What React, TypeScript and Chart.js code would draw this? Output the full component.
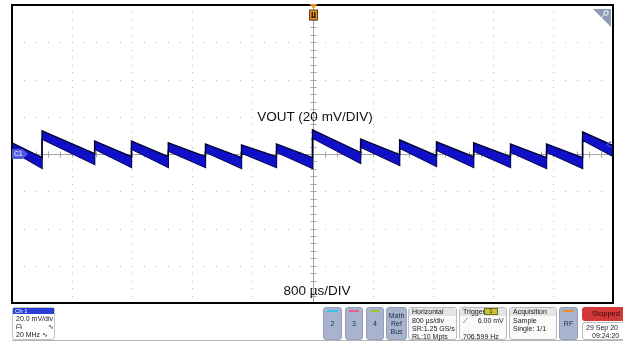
import React, { useEffect, useRef } from "react";
import { Chart, registerables } from "chart.js";

Chart.register(...registerables);

// Time axis (µs) and voltage axis (mV): 10 x 800 µs, 8 x 20 mV
const timeMin = -4000;
const timeMax = 4000;
const timeDiv = 800;
const voltMin = -80;
const voltMax = 80;
const voltDiv = 20;

// Sawtooth edges (µs) of VOUT ripple
const jumpTimes = [-3600, -2900, -2410, -1920, -1425, -945, -480, 0, 640, 1160, 1650, 2145, 2635, 3115, 3595];
// Start / end level of each ramp segment (mV), 16 segments
const rampStartMv = [3.8, 10.2, 4.8, 4.8, 3.8, 3.2, 2.7, 3.2, 10.7, 5.9, 5.4, 4.3, 3.8, 3.2, 3.2, 9.7];
const rampEndMv = [-4.8, -2.7, -4.3, -4.3, -4.3, -4.8, -4.3, -4.8, -2.1, -3.2, -3.8, -4.3, -4.3, -4.8, -4.8, 1.6];
// Noise envelope half-width (mV) at ramp start / end
const noiseStartMv = 2.2;
const noiseEndMv = 2.9;

const bounds = [timeMin, ...jumpTimes, timeMax];
const upper: { x: number; y: number }[] = [];
const lower: { x: number; y: number }[] = [];
for (let i = 0; i < rampStartMv.length; i++) {
  upper.push({ x: bounds[i], y: rampStartMv[i] + noiseStartMv });
  upper.push({ x: bounds[i + 1], y: rampEndMv[i] + noiseEndMv });
  lower.push({ x: bounds[i], y: rampStartMv[i] - noiseStartMv });
  lower.push({ x: bounds[i + 1], y: rampEndMv[i] - noiseEndMv });
}

const scopePlugin = {
  id: "scope",
  beforeDatasetsDraw(chart: any) {
    const { ctx, chartArea: a, scales } = chart;
    const x = scales.x;
    const y = scales.y;
    ctx.save();
    ctx.fillStyle = "#bcbcbc";
    const yMinor = voltDiv / 5;
    const xMinor = timeDiv / 5;
    for (let t = timeMin + timeDiv; t < timeMax; t += timeDiv) {
      if (t === 0) continue;
      const px = Math.round(x.getPixelForValue(t));
      for (let v = voltMin + yMinor; v < voltMax; v += yMinor) {
        const py = Math.round(y.getPixelForValue(v));
        ctx.fillRect(px, py, 1, 1);
      }
    }
    for (let v = voltMin + voltDiv; v < voltMax; v += voltDiv) {
      if (v === 0) continue;
      const py = Math.round(y.getPixelForValue(v));
      for (let t = timeMin + xMinor; t < timeMax; t += xMinor) {
        const px = Math.round(x.getPixelForValue(t));
        ctx.fillRect(px, py, 1, 1);
      }
    }
    // center crosshair
    const cx = Math.round(x.getPixelForValue(0)) + 0.5;
    const cy = Math.round(y.getPixelForValue(0)) + 0.5;
    ctx.strokeStyle = "#a4a4a4";
    ctx.lineWidth = 1;
    ctx.beginPath();
    ctx.moveTo(cx, a.top);
    ctx.lineTo(cx, a.bottom);
    ctx.moveTo(a.left, cy);
    ctx.lineTo(a.right, cy);
    for (let v = voltMin + yMinor; v < voltMax; v += yMinor) {
      const py = Math.round(y.getPixelForValue(v)) + 0.5;
      ctx.moveTo(cx - 3, py);
      ctx.lineTo(cx + 3, py);
    }
    for (let t = timeMin + xMinor; t < timeMax; t += xMinor) {
      const px = Math.round(x.getPixelForValue(t)) + 0.5;
      ctx.moveTo(px, cy - 3);
      ctx.lineTo(px, cy + 3);
    }
    ctx.stroke();
    ctx.restore();
  },
  afterDatasetsDraw(chart: any) {
    const { ctx, chartArea: a, scales } = chart;
    const x = scales.x;
    const y = scales.y;
    ctx.save();
    ctx.strokeStyle = "#000";
    ctx.lineWidth = 2;
    ctx.strokeRect(a.left, a.top, a.right - a.left, a.bottom - a.top);

    // trigger marker
    const cx = Math.round(x.getPixelForValue(0)) + 0.5;
    ctx.fillStyle = "#e8902c";
    ctx.beginPath();
    ctx.moveTo(cx - 4, a.top - 1);
    ctx.lineTo(cx + 4, a.top - 1);
    ctx.lineTo(cx, a.top + 4);
    ctx.closePath();
    ctx.fill();
    ctx.fillRect(cx - 4, a.top + 5, 8, 10);
    ctx.strokeStyle = "#6a3a10";
    ctx.lineWidth = 1;
    ctx.strokeRect(cx - 4, a.top + 5, 8, 10);
    ctx.fillStyle = "#3a2008";
    ctx.fillRect(cx - 2, a.top + 7, 1.5, 6);
    ctx.fillRect(cx + 0.5, a.top + 7, 1.5, 6);
    ctx.fillRect(cx - 2, a.top + 11.5, 4, 1.5);

    // zoom icon
    ctx.fillStyle = "#8e9bb6";
    ctx.beginPath();
    ctx.moveTo(a.right - 20, a.top + 4);
    ctx.lineTo(a.right - 2, a.top + 4);
    ctx.lineTo(a.right - 2, a.top + 22);
    ctx.closePath();
    ctx.fill();
    ctx.strokeStyle = "#ffffff";
    ctx.lineWidth = 1;
    ctx.beginPath();
    ctx.arc(a.right - 7, a.top + 8, 2.2, 0, Math.PI * 2);
    ctx.moveTo(a.right - 9, a.top + 10);
    ctx.lineTo(a.right - 12, a.top + 13);
    ctx.stroke();

    // right-edge channel arrow
    const ay = Math.round(y.getPixelForValue(5.5)) + 0.5;
    ctx.strokeStyle = "#3a4ae0";
    ctx.lineWidth = 1.2;
    ctx.beginPath();
    ctx.moveTo(a.right - 2, ay - 3);
    ctx.lineTo(a.right - 6, ay);
    ctx.lineTo(a.right - 2, ay + 3);
    ctx.stroke();
    ctx.restore();
  },
};

const font = "'Liberation Sans', Arial, sans-serif";

const abs = (l: number, t: number, w: number, h: number, extra: any = {}): any => ({
  position: "absolute",
  left: l,
  top: t,
  width: w,
  height: h,
  boxSizing: "border-box",
  ...extra,
});

function BlueBox({ left, width, line, children }: any) {
  return (
    <div
      style={abs(left, 307, width, 33, {
        background: "#a8b4cd",
        border: "1px solid #94a0ba",
        borderRadius: 3,
        color: "#1c2a4a",
        fontSize: 7,
        display: "flex",
        flexDirection: "column",
        alignItems: "center",
        justifyContent: "center",
        lineHeight: "8px",
        textAlign: "center",
      })}
    >
      {line ? (
        <div style={abs(3, 2, width - 8, 2, { background: line })} />
      ) : null}
      {children}
    </div>
  );
}

function InfoBox({ left, width, title, lines, tag }: any) {
  return (
    <div
      style={abs(left, 307, width, 33, {
        background: "#fafafa",
        border: "1px solid #bcbcbc",
        borderRadius: 3,
        color: "#202020",
        fontSize: 7,
        lineHeight: "8px",
      })}
    >
      <div
        style={abs(0, 0, width - 2, 8, {
          background: "#e4e4e4",
          paddingLeft: 3,
          color: "#1a1a1a",
          whiteSpace: "pre",
        })}
      >
        {title}
      </div>
      {tag ? (
        <div
          style={abs(width - 24, 0, 14, 7, {
            background: "#c8c236",
            border: "1px solid #6e6a18",
            fontSize: 6,
            lineHeight: "5px",
            textAlign: "center",
            color: "#222",
          })}
        >
          {tag}
        </div>
      ) : null}
      {lines.map((s: string, i: number) => (
        <div key={i} style={abs(3, 9 + i * 8, width - 5, 8, { whiteSpace: "pre" })}>
          {s}
        </div>
      ))}
    </div>
  );
}

export default function App() {
  const ref = useRef<HTMLCanvasElement>(null);
  useEffect(() => {
    if (!ref.current) return;
    const chart = new Chart(ref.current, {
      type: "line",
      data: {
        datasets: [
          {
            data: upper,
            borderColor: "#02022e",
            borderWidth: 1.4,
            backgroundColor: "#1010c8",
            fill: "+1",
            pointRadius: 0,
            tension: 0,
          },
          {
            data: lower,
            borderColor: "#02022e",
            borderWidth: 1.4,
            backgroundColor: "#1010c8",
            fill: false,
            pointRadius: 0,
            tension: 0,
          },
        ],
      },
      options: {
        animation: false,
        responsive: false,
        maintainAspectRatio: false,
        events: [],
        layout: { padding: { left: 12, top: 5, right: 10, bottom: 3 } },
        plugins: { legend: { display: false }, tooltip: { enabled: false } },
        scales: {
          x: { type: "linear", min: timeMin, max: timeMax, display: false },
          y: { type: "linear", min: voltMin, max: voltMax, display: false },
        },
      },
      plugins: [scopePlugin],
    });
    return () => chart.destroy();
  }, []);

  return (
    <div
      style={{
        position: "absolute",
        left: 0,
        top: 0,
        width: 623,
        height: 345,
        background: "#fff",
        overflow: "hidden",
        fontFamily: font,
      }}
    >
      <canvas ref={ref} width={623} height={306} style={abs(0, 0, 623, 306)} />

      {/* C1 marker */}
      <div
        style={abs(12, 149, 16, 10, {
          background: "#4c5ce0",
          clipPath: "polygon(0 0, 65% 0, 100% 50%, 65% 100%, 0 100%)",
          color: "#fff",
          fontSize: 6.5,
          lineHeight: "10px",
          paddingLeft: 2,
        })}
      >
        C1
      </div>

      <div
        style={abs(215, 109, 200, 16, {
          fontSize: 13.5,
          lineHeight: "16px",
          textAlign: "center",
          color: "#111",
        })}
      >
        VOUT (20 mV/DIV)
      </div>
      <div
        style={abs(217, 283, 200, 16, {
          fontSize: 13.5,
          lineHeight: "16px",
          textAlign: "center",
          color: "#111",
        })}
      >
        800 µs/DIV
      </div>

      {/* status bar */}
      <div style={abs(12, 340, 611, 1, { background: "#b4b4b4" })} />
      <div
        style={abs(12, 307, 43, 33, {
          border: "1px solid #c4c4c4",
          borderRadius: 3,
          fontSize: 7,
          lineHeight: "8px",
          color: "#202020",
          background: "#fff",
        })}
      >
        <div style={abs(0, 0, 41, 6, { background: "#2a3ed8", color: "#fff", fontSize: 6, lineHeight: "6px", paddingLeft: 2 })}>
          Ch 1
        </div>
        <div style={abs(3, 7, 40, 8)}>20.0 mV/div</div>
        <div style={abs(3, 15, 38, 8, { display: "flex", justifyContent: "space-between" })}>
          <span>ᗩ</span>
          <span>∿</span>
        </div>
        <div style={abs(3, 23, 40, 8)}>20 MHz ∿</div>
      </div>

      <BlueBox left={323} width={19} line="#38c4e6">2</BlueBox>
      <BlueBox left={345} width={18} line="#e45e98">3</BlueBox>
      <BlueBox left={366} width={18} line="#9cc43a">4</BlueBox>
      <BlueBox left={386} width={21}>
        <div>Math</div>
        <div>Ref</div>
        <div>Bus</div>
      </BlueBox>
      <InfoBox left={408} width={49} title="Horizontal" lines={["800 µs/div", "SR:1.25 GS/s", "RL:10 Mpts"]} />
      <InfoBox left={459} width={48} title="Trigger" tag="1" lines={["⟋     6.00 mV", "", "706.599 Hz"]} />
      <InfoBox left={509} width={48} title="Acquisition" lines={["Sample", "Single: 1/1"]} />
      <BlueBox left={559} width={19} line="#f08a30">RF</BlueBox>

      <div
        style={abs(582, 307, 50, 14, {
          background: "#d23a3a",
          borderRadius: 3,
          color: "#3a0808",
          fontSize: 7.5,
          lineHeight: "14px",
          paddingLeft: 10,
        })}
      >
        Stopped
      </div>
      <div
        style={abs(582, 322, 50, 18, {
          background: "#fff",
          border: "1px solid #bcbcbc",
          borderRadius: 3,
          color: "#202020",
          fontSize: 7,
          lineHeight: "8px",
        })}
      >
        <div style={abs(3, 1, 46, 8, { whiteSpace: "pre" })}>29 Sep 20</div>
        <div style={abs(9, 9, 40, 8, { whiteSpace: "pre" })}>09:24:20</div>
      </div>
    </div>
  );
}
